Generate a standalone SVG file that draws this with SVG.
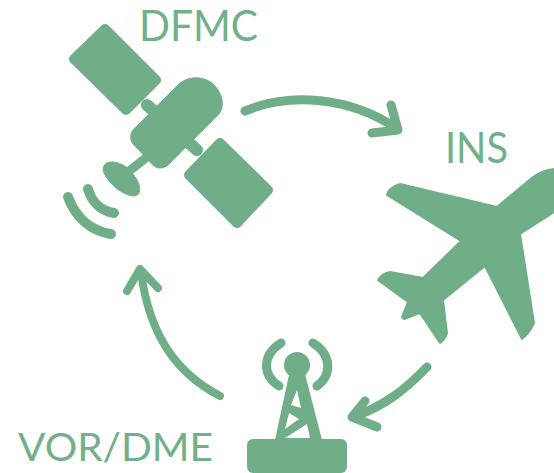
<svg xmlns="http://www.w3.org/2000/svg" width="554" height="473" viewBox="0 0 554 473">
<style>
.f{fill:#6fae87;stroke:#6fae87;stroke-linejoin:round}
.l{fill:none;stroke:#6fae87;stroke-linecap:round;stroke-linejoin:round}
.t{font-family:"Lato","Open Sans",sans-serif;font-size:42px;fill:#72b08a}
</style>
<rect width="554" height="473" fill="#fff"/>
<g id="satellite">
<path class="l" stroke-width="12" stroke-linecap="butt" d="M147 105L197 150"/>
<path class="l" stroke-width="9" d="M147 157L128 172"/>
<path class="f" stroke-width="10" d="M105 29L156 80L126 110L74 59Z"/>
<path class="f" stroke-width="10" d="M220 143L268 190L237 223L189 175Z"/>
<path class="f" stroke-width="1" d="M135 128L178 85C188 75 205 76 214 85C224 95 224 108 219 114L168 165C163 169 157 169 153 165L134 145C129 140 130 132 135 128Z"/>
<path class="f" stroke-width="1" d="M104 166C106 160 118 161 126 167C136 175 142 187 139 193C136 199 125 195 116 188C108 181 101 172 104 166Z"/>
<path class="l" stroke-width="10" d="M88 189C92 203 102 211 114 213M68 197C76 218 91 231 111 234"/>
</g>
<g id="plane">
<path class="f" stroke-width="2" d="M387 195Q388 188 400 184L497 207L533 177Q543 170 554 169V212L520 234L534 323Q530 333 522 339L485 266L443 300L447 333Q445 340 440 343L420 313L404 319L402 317L408 302L378 280Q382 273 390 272L423 278L461 241Z"/>
</g>
<g id="tower">
<circle class="f" stroke-width="0" cx="297" cy="365" r="13"/>
<path class="l" stroke-width="9" d="M281 343C262 355 262 375 279 386M313 343C332 355 332 375 317 386"/>
<path class="f" stroke-width="0" d="M290 370H304L322 440H275Z"/>
<path fill="#fff" d="M297 390L291 405L301 408ZM289 413L299 419L285 429ZM285 438H310L307 424Z"/>
<rect class="f" stroke-width="0" x="247" y="439" width="100" height="34" rx="6"/>
</g>
<g id="connectors">
<path class="l" stroke-width="9" d="M245 111C290 92 350 97 396 128M391 105L398 130L372 133"/>
<path class="l" stroke-width="9" d="M427 367C405 390 385 405 356 416M365 401L352 417L377 427"/>
<path class="l" stroke-width="8" d="M220 396C180 375 150 340 141 272M127 291L140 269L158 288"/>
</g>
<g id="labels">
<text class="t" x="139" y="41" textLength="119" lengthAdjust="spacingAndGlyphs">DFMC</text>
<text class="t" x="445" y="163" textLength="63" lengthAdjust="spacingAndGlyphs">INS</text>
<text class="t" x="18" y="461" style="font-size:39px" textLength="195" lengthAdjust="spacingAndGlyphs">VOR/DME</text>
</g>
</svg>
